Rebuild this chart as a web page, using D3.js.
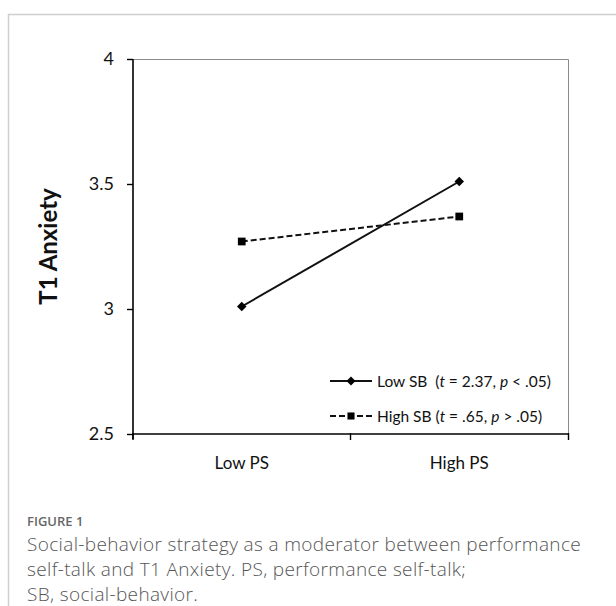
<!DOCTYPE html>
<html>
<head>
<meta charset="utf-8">
<script src="https://cdn.jsdelivr.net/npm/d3@7"></script>
<style>
  body { margin: 0; background: #fff; }
  svg { display: block; }
</style>
</head>
<body>
<script>
var width = 616;
var height = 606;

// data
var categories = ['Low PS', 'High PS'];
var lowSB = [3.01, 3.51];
var highSB = [3.27, 3.37];
var yTicks = [2.5, 3, 3.5, 4];
var seriesNames = ['Low SB', 'High SB'];
var seriesStats = [['2.37', '<'], ['.65', '>']];

var plot = {left: 133, right: 568, top: 59, bottom: 434};

var svg = d3.select('body').append('svg')
  .attr('width', width)
  .attr('height', height);

// card border (top + left)
svg.append('path')
   .attr('d', 'M 8.5 ' + height + ' L 8.5 14.5 L ' + width + ' 14.5')
   .attr('fill', 'none')
   .attr('stroke', '#cfcfcf')
   .attr('stroke-width', 1.5);

var x = d3.scaleBand()
  .domain(categories)
  .range([plot.left, plot.right]);
var y = d3.scaleLinear()
  .domain([2.5, 4])
  .range([plot.bottom, plot.top]);

// frame top/right
svg.append('path')
   .attr('d', 'M ' + plot.left + ' ' + (plot.top + 0.5) + ' L ' + (plot.right + 0.5) + ' ' + (plot.top + 0.5) +
              ' L ' + (plot.right + 0.5) + ' ' + plot.bottom)
   .attr('fill', 'none')
   .attr('stroke', '#8a8a8a')
   .attr('stroke-width', 1);

var yAxis = d3.axisLeft(y)
  .tickValues(yTicks)
  .tickSize(6)
  .tickPadding(13)
  .tickFormat(d3.format('~g'));

var yG = svg.append('g')
  .attr('transform', 'translate(' + plot.left + ',0)')
  .call(yAxis);

// excel-style category axis: ticks between categories
var xAxisG = svg.append('g')
  .attr('transform', 'translate(0,' + plot.bottom + ')');
xAxisG.append('path')
  .attr('d', 'M ' + plot.left + ' 0 L ' + (plot.right + 1) + ' 0')
  .attr('stroke', '#000')
  .attr('stroke-width', 1.6);
var bounds = [plot.left, x(categories[1]), plot.right + 0.5];
xAxisG.selectAll('.xtick')
  .data(bounds)
  .enter().append('line')
  .attr('class', 'xtick')
  .attr('x1', d => d).attr('x2', d => d)
  .attr('y1', -1).attr('y2', 6)
  .attr('stroke', '#000')
  .attr('stroke-width', 1.4);
xAxisG.selectAll('.xlabel')
  .data(categories)
  .enter().append('text')
  .attr('class', 'xlabel')
  .attr('x', d => x(d) + x.bandwidth() / 2)
  .attr('y', 35)
  .attr('text-anchor', 'middle')
  .style('font-family', 'Lato, sans-serif')
  .style('font-size', '17px')
  .attr('fill', '#111')
  .text(d => d);

yG.select('.domain').attr('stroke-width', 1.6).attr('d', 'M0,' + (plot.bottom + 5) + 'V' + plot.top);
yG.selectAll('.tick line').attr('stroke-width', 1.4);
yG.selectAll('.tick text')
  .style('font-family', 'Lato, sans-serif')
  .style('font-size', '18px')
  .attr('fill', '#111');

svg.append('text')
  .attr('transform', 'translate(57,' + y(3.25) + ') rotate(-90)')
  .attr('text-anchor', 'middle')
  .style('font-family', 'Lato, sans-serif')
  .style('font-weight', 'bold')
  .style('font-size', '24px')
  .attr('fill', '#111')
  .text('T1 Anxiety');

var cx = d => x(d) + x.bandwidth() / 2;
var line = d3.line()
  .x((d, i) => cx(categories[i]))
  .y(d => y(d));

svg.append('path')
  .datum(lowSB)
  .attr('d', line)
  .attr('fill', 'none')
  .attr('stroke', '#111')
  .attr('stroke-width', 2);

svg.append('path')
  .datum(highSB)
  .attr('d', line)
  .attr('fill', 'none')
  .attr('stroke', '#111')
  .attr('stroke-width', 2)
  .attr('stroke-dasharray', '6,3');

var square = d3.symbol().type(d3.symbolSquare).size(60);

svg.selectAll('.lowPt')
  .data(lowSB)
  .enter().append('path')
  .attr('class', 'lowPt')
  .attr('transform', (d, i) => 'translate(' + cx(categories[i]) + ',' + y(d) + ') rotate(45)')
  .attr('d', d3.symbol().type(d3.symbolSquare).size(45))
  .attr('fill', '#000');

svg.selectAll('.highPt')
  .data(highSB)
  .enter().append('path')
  .attr('class', 'highPt')
  .attr('transform', (d, i) => 'translate(' + cx(categories[i]) + ',' + y(d) + ')')
  .attr('d', square)
  .attr('fill', '#000');

// legend
var legendRows = [381, 416];
var legend = svg.selectAll('.legendRow')
  .data(seriesNames)
  .enter().append('g')
  .attr('class', 'legendRow')
  .attr('transform', (d, i) => 'translate(330,' + legendRows[i] + ')');

legend.append('line')
  .attr('x1', 0).attr('x2', 42)
  .attr('y1', 0).attr('y2', 0)
  .attr('stroke', '#111')
  .attr('stroke-width', 2)
  .attr('stroke-dasharray', (d, i) => i === 0 ? null : '6,3');

legend.append('path')
  .attr('transform', (d, i) => 'translate(21,0)' + (i === 0 ? ' rotate(45)' : ''))
  .attr('d', (d, i) => d3.symbol().type(d3.symbolSquare).size(i === 0 ? 40 : 50)())
  .attr('fill', '#000');

var legendText = legend.append('text')
  .attr('x', 47)
  .attr('y', 6)
  .style('font-family', 'Lato, sans-serif')
  .style('font-size', '15.5px')
  .attr('fill', '#111');

legendText.append('tspan').text((d, i) => d + (i === 0 ? '\u00a0 (' : ' ('));
legendText.append('tspan').style('font-style', 'italic').text('t');
legendText.append('tspan').text((d, i) => ' = ' + seriesStats[i][0] + ', ');
legendText.append('tspan').style('font-style', 'italic').text('p');
legendText.append('tspan').text((d, i) => ' ' + seriesStats[i][1] + ' .05)');

// caption
var captionLines = [
  'Social-behavior strategy as a moderator between performance',
  'self-talk and T1 Anxiety. PS, performance self-talk;',
  'SB, social-behavior.'
];

svg.append('text')
  .attr('x', 27)
  .attr('y', 526)
  .style('font-family', '"Open Sans", sans-serif')
  .style('font-size', '13px')
  .style('font-weight', '600')
  .attr('fill', '#666')
  .text('FIGURE 1');

svg.selectAll('.caption')
  .data(captionLines)
  .enter().append('text')
  .attr('class', 'caption')
  .attr('x', 27)
  .attr('y', (d, i) => 551 + i * 25)
  .style('font-family', '"Open Sans", sans-serif')
  .style('font-size', '19px')
  .style('letter-spacing', '0.35px')
  .style('font-weight', '300')
  .attr('fill', '#555')
  .text(d => d);
</script>
</body>
</html>
